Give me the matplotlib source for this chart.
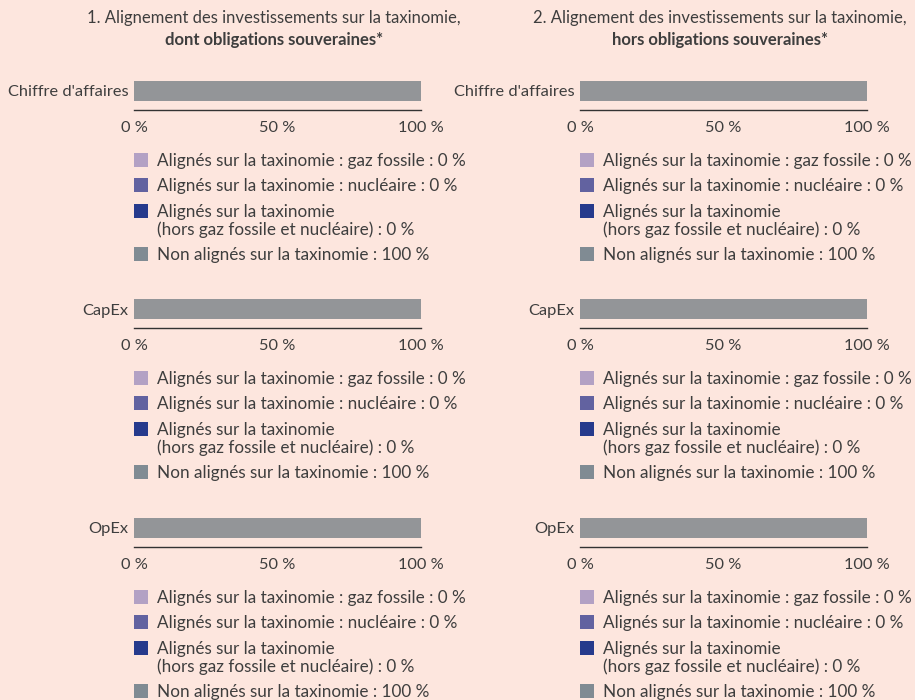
import matplotlib
matplotlib.use("Agg")
import matplotlib.pyplot as plt
from matplotlib.patches import Rectangle

# ------------------------------------------------------------------
# données
# ------------------------------------------------------------------
panel_titles = [
    "1. Alignement des investissements sur la taxinomie,",
    "2. Alignement des investissements sur la taxinomie,",
]
panel_subtitles = [
    "dont obligations souveraines*",
    "hors obligations souveraines*",
]
kpis = ["Chiffre d'affaires", "CapEx", "OpEx"]
categories = [
    "Alignés sur la taxinomie : gaz fossile",
    "Alignés sur la taxinomie : nucléaire",
    "Alignés sur la taxinomie\n(hors gaz fossile et nucléaire)",
    "Non alignés sur la taxinomie",
]
# valeurs (%) par panneau -> par indicateur -> par catégorie
values_incl_sov = [
    [0, 0, 0, 100],
    [0, 0, 0, 100],
    [0, 0, 0, 100],
]
values_excl_sov = [
    [0, 0, 0, 100],
    [0, 0, 0, 100],
    [0, 0, 0, 100],
]
ticks = [0, 50, 100]
tick_labels = ["0 %", "50 %", "100 %"]

bar_colors = ["#b3a1c4", "#6262a0", "#263a8c", "#939598"]
legend_colors = ["#b3a1c4", "#6262a0", "#263a8c", "#808b93"]
bg = "#fde6de"
txt = "#3e3e3e"

plt.rcParams["font.family"] = ["Lato", "DejaVu Sans"]

W, H = 915, 700
fig = plt.figure(figsize=(W / 100, H / 100), dpi=100, facecolor=bg)


def fx(x):
    return x / W


def fy(y):
    return 1 - y / H


panel_x = [134, 580]
bar_top = [81, 299, 518]
# décalage vertical des lignes de légende par rapport au haut de la barre
leg_offsets = [[79], [104], [130, 148], [173]]

for p, data in enumerate([values_incl_sov, values_excl_sov]):
    cx = panel_x[p] + 140
    fig.text(fx(cx), fy(18), panel_titles[p], ha="center", va="center",
             color=txt, fontsize=12)
    fig.text(fx(cx), fy(40), panel_subtitles[p], ha="center", va="center",
             color=txt, fontsize=12, fontweight="bold")

    for r, kpi in enumerate(kpis):
        top = bar_top[r] - 3
        ax = fig.add_axes([fx(panel_x[p]), fy(top + 32), 287 / W, 32 / H])
        ax.set_facecolor(bg)
        left = 0
        for c, v in enumerate(data[r]):
            ax.barh(0, v, left=left, height=1, color=bar_colors[c])
            left += v
        ax.set_xlim(0, 100)
        ax.set_ylim(-0.95, 0.65)
        ax.set_xticks(ticks)
        ax.set_xticklabels(tick_labels)
        ax.set_yticks([0])
        ax.set_yticklabels([kpi])
        ax.tick_params(length=0, colors=txt, labelsize=11.8)
        ax.tick_params(axis="x", pad=8)
        ax.tick_params(axis="y", pad=4)
        for s in ["top", "left", "right"]:
            ax.spines[s].set_visible(False)
        ax.spines["bottom"].set_color("#333333")
        ax.spines["bottom"].set_linewidth(1)

        # légende
        for c, cat in enumerate(categories):
            lines = f"{cat} : {data[r][c]} %".split("\n")
            ys = [bar_top[r] + o for o in leg_offsets[c]]
            fig.patches.append(Rectangle((fx(panel_x[p]), fy(ys[0] + 7)), 14 / W, 14 / H,
                                         transform=fig.transFigure,
                                         color=legend_colors[c], lw=0))
            for line, y in zip(lines, ys):
                fig.text(fx(panel_x[p] + 23), fy(y + 1), line, ha="left", va="center",
                         color=txt, fontsize=12.3)

fig.savefig("out.png", dpi=100, facecolor=bg)
